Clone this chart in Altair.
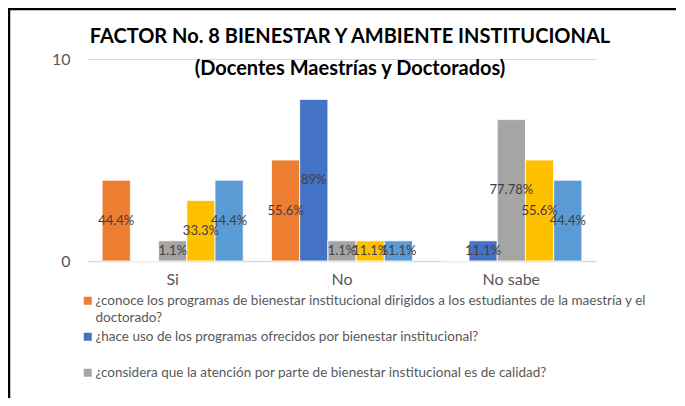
import altair as alt
import pandas as pd

categories = ["Si", "No", "No sabe"]
series = [
    "¿conoce los programas de bienestar institucional dirigidos a los estudiantes de la maestría y el\ndoctorado?",
    "¿hace uso de los programas ofrecidos por bienestar institucional?",
    "¿considera que la atención por parte de bienestar institucional es de calidad?",
    "Pregunta 4",
    "Pregunta 5",
]
colors = ["#ED7D31", "#4472C4", "#A5A5A5", "#FFC000", "#5B9BD5"]

values_s1 = [4, 5, 0]
values_s2 = [0, 8, 1]
values_s3 = [1, 1, 7]
values_s4 = [3, 1, 5]
values_s5 = [4, 1, 4]
labels_s1 = ["44.4%", "55.6%", ""]
labels_s2 = ["", "89%", "11.1%"]
labels_s3 = ["1.1%", "1.1%", "77.78%"]
labels_s4 = ["33.3%", "11.1%", "55.6%"]
labels_s5 = ["44.4%", "11.1%", "44.4%"]

all_values = [values_s1, values_s2, values_s3, values_s4, values_s5]
all_labels = [labels_s1, labels_s2, labels_s3, labels_s4, labels_s5]

rows = []
for s, vals, labs in zip(series, all_values, all_labels):
    for c, v, l in zip(categories, vals, labs):
        rows.append({"categoria": c, "serie": s, "valor": v, "etiqueta": l, "mid": v / 2})
df = pd.DataFrame(rows)

FONT = "Lato"

y_axis = alt.Axis(
    values=[0, 10], title=None, labelFont=FONT, labelFontSize=16,
    labelColor="#595959", ticks=False, domain=False,
    gridColor="#d9d9d9", labelPadding=18,
)

base = alt.Chart(df).encode(
    x=alt.X(
        "categoria:N",
        sort=categories,
        scale=alt.Scale(paddingInner=0, paddingOuter=0),
        axis=alt.Axis(
            title=None, labelAngle=0, labelFont=FONT, labelFontSize=16,
            labelColor="#595959", labelPadding=10, ticks=False,
            domainColor="#d9d9d9", domainWidth=1.5,
        ),
    ),
    xOffset=alt.XOffset("serie:N", sort=series,
                        scale=alt.Scale(paddingInner=0, paddingOuter=0.5)),
)

bars = base.mark_bar(stroke="white", strokeWidth=0.8).encode(
    y=alt.Y("valor:Q", scale=alt.Scale(domain=[0, 10]), axis=y_axis),
    color=alt.Color(
        "serie:N",
        sort=series,
        scale=alt.Scale(domain=series, range=colors),
        legend=alt.Legend(
            title=None, orient="none", legendX=-7, legendY=235,
            direction="vertical", values=series[:3],
            labelExpr="indexof(datum.label, '\\n') >= 0 ? split(datum.label, '\\n') : [datum.label, ' ']",
            labelFont=FONT, labelFontSize=13.5, labelColor="#595959",
            labelLimit=800, symbolType="square", symbolSize=64,
            symbolStrokeWidth=0, rowPadding=4, labelOffset=1,
        ),
    ),
)

texts = base.mark_text(font=FONT, fontSize=13, color="#404040").encode(
    y=alt.Y("mid:Q", scale=alt.Scale(domain=[0, 10]), axis=y_axis),
    text="etiqueta:N",
)

frame_df = pd.DataFrame({"k": [0]})
frame_top = alt.Chart(frame_df).mark_rule(color="black", strokeWidth=2.5).encode(
    x=alt.value(-80), x2=alt.value(600), y=alt.value(-50)
)
frame_left = alt.Chart(frame_df).mark_rule(color="black", strokeWidth=2.5).encode(
    x=alt.value(-79), y=alt.value(-51), y2=alt.value(345)
)

chart = alt.layer(bars, texts, frame_top, frame_left).properties(
    width=508,
    height=202,
    title=alt.TitleParams(
        text=["FACTOR No. 8 BIENESTAR Y AMBIENTE INSTITUCIONAL",
              "(Docentes Maestrías y Doctorados)"],
        font=FONT, fontSize=20, fontWeight="bold", color="black",
        anchor="middle", lineHeight=32, offset=-72, dx=8,
    ),
    autosize=alt.AutoSizeParams(type="none"),
    padding={"left": 80, "top": 51, "right": 80, "bottom": 137},
).configure(
    style={"guide-label": {"lineHeight": 17}},
    view=alt.ViewConfig(stroke=None),
)

chart.save("out.html", embed_options={"renderer": "svg", "actions": False})
